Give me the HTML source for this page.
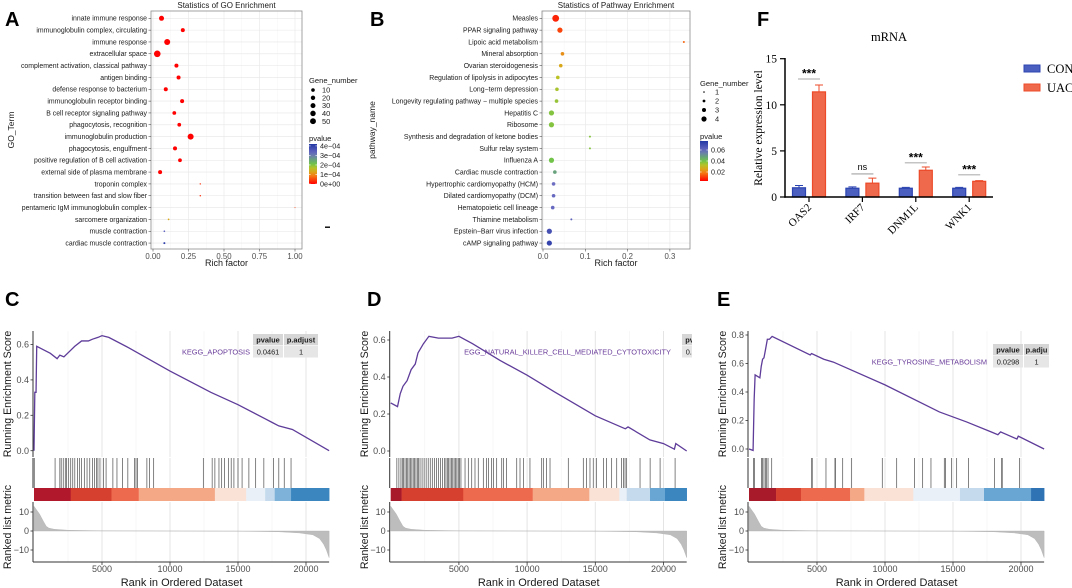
<!DOCTYPE html>
<html><head><meta charset="utf-8"><style>
html,body{margin:0;padding:0;background:#fff;}
svg{display:block;font-family:"Liberation Sans",sans-serif;}
.serif{font-family:"Liberation Serif",serif;}
</style></head><body>
<svg id="fig" width="1072" height="588" viewBox="0 0 1072 588" xmlns="http://www.w3.org/2000/svg">
<defs>
<clipPath id="clipD"><rect x="340" y="290" width="352" height="298"/></clipPath>
</defs>
</svg>
<script>
// ---------- Panel A data ----------
const GO_TERMS=['innate immune response','immunoglobulin complex, circulating','immune response','extracellular space','complement activation, classical pathway','antigen binding','defense response to bacterium','immunoglobulin receptor binding','B cell receptor signaling pathway','phagocytosis, recognition','immunoglobulin production','phagocytosis, engulfment','positive regulation of B cell activation','external side of plasma membrane','troponin complex','transition between fast and slow fiber','pentameric IgM immunoglobulin complex','sarcomere organization','muscle contraction','cardiac muscle contraction'];
const GO_RICH=[0.06,0.21,0.10,0.03,0.165,0.18,0.09,0.205,0.15,0.185,0.265,0.155,0.19,0.05,0.333,0.333,1.0,0.11,0.08,0.08];
const GO_GENES=[25,16,36,44,16,16,16,16,14,14,36,16,14,16,2,2,1,3,3,4];
const GO_P=[1e-6,1e-6,1e-6,1e-6,1e-6,1e-6,1e-6,1e-6,1e-6,1e-6,1e-6,1e-6,1e-6,1e-6,0.3e-4,0.3e-4,0.5e-4,1.3e-4,3.3e-4,4.0e-4];
const GO_XTICKS=[0,0.25,0.5,0.75,1.0];
const GO_XTICK_LABELS=['0.00','0.25','0.50','0.75','1.00'];
const GO_LEGEND_SIZES=[10,20,30,40,50];
const GO_P_TICKS=[4e-4,3e-4,2e-4,1e-4,0];
const GO_P_LABELS=['4e−04','3e−04','2e−04','1e−04','0e+00'];
// ---------- Panel B data ----------
const KEGG_TERMS=['Measles','PPAR signaling pathway','Lipoic acid metabolism','Mineral absorption','Ovarian steroidogenesis','Regulation of lipolysis in adipocytes','Long−term depression','Longevity regulating pathway − multiple species','Hepatitis C','Ribosome','Synthesis and degradation of ketone bodies','Sulfur relay system','Influenza A','Cardiac muscle contraction','Hypertrophic cardiomyopathy (HCM)','Dilated cardiomyopathy (DCM)','Hematopoietic cell lineage','Thiamine metabolism','Epstein−Barr virus infection','cAMP signaling pathway'];
const KEGG_RICH=[0.03,0.04,0.333,0.046,0.042,0.035,0.033,0.032,0.02,0.02,0.111,0.111,0.02,0.028,0.025,0.025,0.023,0.067,0.015,0.015];
const KEGG_GENES=[4,3,1,2,2,2,2,2,3,3,1,1,3,2,2,2,2,1,3,3];
const KEGG_P=[0.008,0.012,0.016,0.022,0.026,0.032,0.034,0.036,0.038,0.038,0.038,0.038,0.040,0.048,0.058,0.060,0.060,0.062,0.068,0.072];
const KEGG_XTICKS=[0,0.1,0.2,0.3];
const KEGG_XTICK_LABELS=['0.0','0.1','0.2','0.3'];
const KEGG_LEGEND_SIZES=[1,2,3,4];
const KEGG_P_TICKS=[0.06,0.04,0.02];
const KEGG_P_LABELS=['0.06','0.04','0.02'];
// ---------- Panel F data ----------
const F_GENES=['OAS2','IRF7','DNM1L','WNK1'];
const F_CON=[1.0,0.95,0.95,0.95];
const F_CON_ERR=[0.25,0.15,0.1,0.1];
const F_UAC=[11.4,1.5,2.9,1.7];
const F_UAC_ERR=[0.75,0.55,0.35,0.08];
const F_SIG_Y=[12.8,2.5,3.7,2.4];
const F_SIG_LABEL=['***','ns','***','***'];
const F_YTICKS=[0,5,10,15];
// ---------- GSEA data ----------
const METRIC_RANK=[0,150,400,700,900,1100,1500,2500,5000,10000,15000,18000,19500,20500,21000,21300,21500,21700];
const METRIC_VAL=[13,11.5,9,5,2.5,1.5,0.9,0.4,0.1,0,-0.1,-0.4,-1,-2,-4,-7,-10,-14];
const C_ES_RANK=[0,60,150,200,700,1200,1700,1900,2200,2600,3000,3500,4000,4300,4700,5000,5500,7000,10000,13000,15000,17000,17500,18000,19000,21700];
const C_ES_VAL=[0,0.33,0.33,0.59,0.57,0.55,0.52,0.54,0.53,0.56,0.59,0.62,0.62,0.63,0.64,0.65,0.64,0.58,0.45,0.33,0.26,0.18,0.16,0.14,0.12,0.0];
const C_HITS=[20,1550,1900,2000,2150,2300,2400,2550,2700,2850,3000,3200,3350,3500,3700,3900,4100,4300,4450,4600,4700,4850,5100,5300,5800,6100,6500,6900,7400,7500,7600,8300,8500,8800,12450,13100,13300,13600,13800,14000,14300,14500,14700,15000,15300,15800,16300,16900,17600,18000,18400,18900];
const C_SEG_END=[2700,5700,7700,13300,15600,17000,17700,18900,21700];
const D_ES_RANK=[0,500,700,900,1200,1500,1800,2000,2400,2800,3500,4500,5000,6000,8000,10000,12000,15000,17200,17400,19000,20000,20800,20900,21700];
const D_ES_VAL=[0.26,0.24,0.31,0.35,0.38,0.44,0.47,0.53,0.58,0.62,0.61,0.61,0.62,0.58,0.49,0.41,0.32,0.19,0.12,0.13,0.06,0.04,0.01,0.04,0.0];
const D_HITS=[450,600,750,850,950,1050,1150,1250,1350,1450,1550,1650,1750,1850,1950,2050,2150,2300,2450,2600,2750,2900,3050,3200,3350,3500,3650,3800,3950,4050,4150,4250,4350,4450,4550,4650,4750,4850,4950,5050,5150,5450,5690,5940,6180,6420,6790,7030,7160,7400,7530,7770,8140,8260,8500,9240,9480,9730,10210,11070,11190,11430,11680,13020,14120,14360,14610,14850,15100,15590,15830,16200,16570,16930,17060,17180,17300,18280,19020,19750,20850];
const D_SEG_END=[800,5320,10410,14560,16760,17300,19010,20110,21700];
const E_ES_RANK=[0,300,380,450,800,900,1000,1100,1200,1350,1500,1700,4500,4600,5500,6200,10000,14000,16000,17800,18300,18500,19700,19800,21700];
const E_ES_VAL=[0,-0.01,0.35,0.52,0.50,0.58,0.63,0.64,0.69,0.77,0.77,0.79,0.66,0.67,0.63,0.61,0.45,0.26,0.19,0.12,0.10,0.12,0.07,0.09,0.0];
const E_HITS=[320,400,930,1000,1100,1200,1300,1400,1670,4610,4650,5660,6320,6350,6890,7550,9800,10860,12160,12770,13380,14360,14450,14900,15270,16130,18040,18580,18620,19880];
const E_SEG_END=[1990,3820,7430,8480,12080,15510,17280,20740,21700];
const GSEA_XTICKS=[5000,10000,15000,20000];

// ---------- helpers ----------
const NS='http://www.w3.org/2000/svg';
const svg=document.getElementById('fig');
function mk(tag,attrs,parent,text){const e=document.createElementNS(NS,tag);for(const k in attrs)e.setAttribute(k,attrs[k]);if(text!==undefined)e.textContent=text;(parent||svg).appendChild(e);return e;}
const STOPS=[[0,[255,0,0]],[0.2,[245,120,20]],[0.37,[200,195,30]],[0.52,[100,195,80]],[0.75,[110,110,195]],[1,[35,55,165]]];
function pal(t){t=Math.max(0,Math.min(1,t));for(let i=1;i<STOPS.length;i++){if(t<=STOPS[i][0]){const a=STOPS[i-1],b=STOPS[i];const f=(t-a[0])/(b[0]-a[0]);const c=a[1].map((v,j)=>Math.round(v+(b[1][j]-v)*f));return 'rgb('+c.join(',')+')';}}return 'rgb(35,55,165)';}
const defs=svg.querySelector('defs');
const lg=mk('linearGradient',{id:'pgrad',x1:0,y1:1,x2:0,y2:0},defs);
for(let i=0;i<=10;i++){mk('stop',{offset:(i*10)+'%','stop-color':pal(i/10)},lg);}

function panelLabel(txt,x,y){const t=mk('text',{x:x,y:y,'font-size':20,'font-weight':'bold',fill:'#000'},svg,txt);

}

// ---------- dot plot ----------
function dotPlot(o){
  const g=mk('g',{});
  
  
  const sx=v=>o.x0+v*o.xs;
  const rowY=i=>18.3+i*11.83;
  mk('rect',{x:o.left,y:11,width:o.right-o.left,height:238,fill:'#fff'},g);
  for(let i=0;i<o.ticks.length;i++){
    mk('line',{x1:sx(o.ticks[i]),x2:sx(o.ticks[i]),y1:11,y2:249,stroke:'#e6e6e6','stroke-width':0.6},g);
    if(i<o.ticks.length-1){const m=(o.ticks[i]+o.ticks[i+1])/2;mk('line',{x1:sx(m),x2:sx(m),y1:11,y2:249,stroke:'#f3f3f3','stroke-width':0.4},g);}
  }
  o.terms.forEach((t,i)=>{mk('line',{x1:o.left,x2:o.right,y1:rowY(i),y2:rowY(i),stroke:'#e6e6e6','stroke-width':0.6},g);});
  const box=mk('rect',{x:o.left,y:11,width:o.right-o.left,height:238,fill:'none',stroke:'#8c8c8c','stroke-width':0.8},g);
  
  
  o.terms.forEach((t,i)=>{
    const lab=mk('text',{x:o.left-4,y:rowY(i)+2.4,'font-size':6.9,'text-anchor':'end',fill:'#1a1a1a'},g,t);
    
    
    mk('line',{x1:o.left-2.5,x2:o.left,y1:rowY(i),y2:rowY(i),stroke:'#333','stroke-width':0.5},g);
    const c=mk('circle',{cx:sx(o.rich[i]),cy:rowY(i),r:o.rfn(o.genes[i]),fill:pal(o.pt(o.p[i]))},g);
    
    
  });
  o.ticks.forEach((v,i)=>{
    mk('line',{x1:sx(v),x2:sx(v),y1:249,y2:251.5,stroke:'#333','stroke-width':0.5},g);
    const tl=mk('text',{x:sx(v),y:259,'font-size':7.8,'text-anchor':'middle',fill:'#4d4d4d'},g,o.tickLabels[i]);
    
    
  });
  const ttl=mk('text',{x:(o.left+o.right)/2,y:8,'font-size':8,'text-anchor':'middle',fill:'#1a1a1a'},g,o.title);
  
  
  const xt=mk('text',{x:(o.left+o.right)/2,y:266,'font-size':9,'text-anchor':'middle',fill:'#1a1a1a'},g,'Rich factor');
  
  
  const yt=mk('text',{x:0,y:0,'font-size':8.5,'text-anchor':'middle',fill:'#1a1a1a',transform:'translate('+o.ytX+',130) rotate(-90)'},g,o.ytitle);
  
  
  const lgT=mk('text',{x:o.legX,y:o.legTitleY,'font-size':7.6,fill:'#1a1a1a'},g,'Gene_number');
  
  
  o.legSizes.forEach((s,i)=>{
    const y=o.legY0+i*o.legDy;
    const d=mk('circle',{cx:o.legX+4,cy:y,r:o.legR(s),fill:'#000'},g);
    
    
    mk('text',{x:o.legLabX,y:y+2.6,'font-size':7.4,fill:'#1a1a1a'},g,String(s));
  });
  const pT=mk('text',{x:o.legX,y:o.pTitleY,'font-size':7.6,fill:'#1a1a1a'},g,'pvalue');
  
  
  const cb=mk('rect',{x:o.legX,y:o.cbTop,width:8,height:o.cbBot-o.cbTop,fill:'url(#pgrad)'},g);
  
  
  o.pTicks.forEach((v,i)=>{
    const y=o.cbBot-o.pt(v)*(o.cbBot-o.cbTop);
    mk('text',{x:o.legX+11,y:y+2.5,'font-size':7.2,fill:'#1a1a1a'},g,o.pLabels[i]);
    mk('line',{x1:o.legX,x2:o.legX+1.6,y1:y,y2:y,stroke:'#fff','stroke-width':0.6},g);
    mk('line',{x1:o.legX+6.4,x2:o.legX+8,y1:y,y2:y,stroke:'#fff','stroke-width':0.6},g);
  });
}
dotPlot({name:'go-enrichment-chart',terms:GO_TERMS,rich:GO_RICH,genes:GO_GENES,p:GO_P,left:151,right:302,x0:153,xs:142,
  ticks:GO_XTICKS,tickLabels:GO_XTICK_LABELS,rfn:g=>0.5*Math.sqrt(g),pt:p=>p/4.2e-4,title:'Statistics of GO Enrichment',ytitle:'GO_Term',ytX:14,
  legX:309,legTitleY:83,legY0:90,legDy:7.8,legLabX:322,legSizes:GO_LEGEND_SIZES,legR:s=>0.9+0.18*Math.sqrt(s)*1.6,
  pTitleY:141,cbTop:144,cbBot:184,pTicks:GO_P_TICKS,pLabels:GO_P_LABELS});
mk('rect',{x:325,y:226.5,width:5,height:1.4,fill:'#000'});
dotPlot({name:'kegg-enrichment-chart',terms:KEGG_TERMS,rich:KEGG_RICH,genes:KEGG_GENES,p:KEGG_P,left:542,right:690,x0:543,xs:423,
  ticks:KEGG_XTICKS,tickLabels:KEGG_XTICK_LABELS,rfn:g=>1+0.8*(g-1),pt:p=>(p-0.0036)/0.0728,title:'Statistics of Pathway Enrichment',ytitle:'pathway_name',ytX:375,
  legX:700,legTitleY:86,legY0:92,legDy:9,legLabX:715,legSizes:KEGG_LEGEND_SIZES,legR:s=>0.8+0.6*(s-1),
  pTitleY:139,cbTop:141,cbBot:181,pTicks:KEGG_P_TICKS,pLabels:KEGG_P_LABELS});
panelLabel('A',5,26);
panelLabel('B',370,26);

// ---------- GSEA ----------
const SEG_COLORS_C=['#b2182b','#d6402f','#ee6a4f','#f4a886','#fbe2d6','#eaf0f8','#c5dbed','#7fb2d8','#3c86bf'];
const SEG_COLORS_D=['#a8192a','#d6402f','#ee6a4f','#f4a886','#fbe2d6','#eaf0f8','#c5dbed','#6aa6d4','#3c86bf'];
const SEG_COLORS_E=['#a8192a','#d6402f','#ee6a4f','#f4a886','#fbe2d6','#eaf0f8','#c5dbed','#6aa6d4','#2f73b5'];
function gsea(o){
  const g=mk('g',o.clip?{'clip-path':'url(#'+o.clip+')'}:{});
  
  
  const sx=r=>o.L+r/5000*o.px5k;
  const R=sx(21700);
  const sy=v=>o.es0-v*o.es01*100;
  const my=v=>531-v*1.9;
  for(let r=2500;r<21700;r+=2500){
    const maj=r%5000===0;
    mk('line',{x1:sx(r),x2:sx(r),y1:331,y2:457,stroke:maj?'#e4e4e4':'#f2f2f2','stroke-width':maj?1:0.6},g);
    mk('line',{x1:sx(r),x2:sx(r),y1:458,y2:488,stroke:maj?'#e4e4e4':'#f2f2f2','stroke-width':maj?1:0.6},g);
    mk('line',{x1:sx(r),x2:sx(r),y1:502,y2:562,stroke:maj?'#e4e4e4':'#f2f2f2','stroke-width':maj?1:0.6},g);
  }
  let pts=[sx(0)+','+my(0)];
  METRIC_RANK.forEach((r,i)=>pts.push(sx(r)+','+my(METRIC_VAL[i])));
  pts.push(sx(21700)+','+my(0));
  const ar=mk('polygon',{points:pts.join(' '),fill:'#bdbdbd',stroke:'#b0b0b0','stroke-width':0.4},g);
  
  
  let prev=0;
  o.segEnd.forEach((e,i)=>{
    const s=mk('rect',{x:sx(prev),y:488,width:sx(e)-sx(prev)+0.3,height:13,fill:o.segColors[i]},g);
    
    
    prev=e;
  });
  o.hits.forEach(h=>{
    const l=mk('line',{x1:sx(h),x2:sx(h),y1:458,y2:488,stroke:'#222','stroke-width':0.7,'stroke-opacity':0.8},g);
    
    
  });
  const cp=o.esRank.map((r,i)=>sx(r)+','+sy(o.esVal[i])).join(' ');
  const cur=mk('polyline',{points:cp,fill:'none',stroke:'#5e3c99','stroke-width':1.3},g);
  
  
  [[331,457],[458,488],[502,562]].forEach(a=>mk('line',{x1:o.L-1,x2:o.L-1,y1:a[0],y2:a[1],stroke:'#333','stroke-width':1},g));
  mk('line',{x1:o.L-1,x2:R,y1:562,y2:562,stroke:'#333','stroke-width':1},g);
  o.esTicks.forEach(v=>{
    mk('line',{x1:o.L-3.5,x2:o.L-1,y1:sy(v),y2:sy(v),stroke:'#333','stroke-width':0.8},g);
    const t=mk('text',{x:o.L-5,y:sy(v)+3.2,'font-size':9,'text-anchor':'end',fill:'#4d4d4d'},g,v.toFixed(1));
    
    
  });
  [10,0,-10].forEach(v=>{
    mk('line',{x1:o.L-3.5,x2:o.L-1,y1:my(v),y2:my(v),stroke:'#333','stroke-width':0.8},g);
    mk('text',{x:o.L-5,y:my(v)+3.2,'font-size':9,'text-anchor':'end',fill:'#4d4d4d'},g,String(v).replace('-','−'));
  });
  GSEA_XTICKS.forEach(v=>{
    mk('line',{x1:sx(v),x2:sx(v),y1:562,y2:565,stroke:'#333','stroke-width':0.8},g);
    const t=mk('text',{x:sx(v),y:572,'font-size':9,'text-anchor':'middle',fill:'#4d4d4d'},g,String(v));
    
    
  });
  const xt=mk('text',{x:(o.L+R)/2,y:586,'font-size':11,'text-anchor':'middle',fill:'#1a1a1a'},g,'Rank in Ordered Dataset');
  
  
  const y1=mk('text',{x:0,y:0,'font-size':10.6,'text-anchor':'middle',fill:'#1a1a1a',transform:'translate('+o.ytX+',394) rotate(-90)'},g,'Running Enrichment Score');
  
  
  const y2=mk('text',{x:0,y:0,'font-size':10.6,'text-anchor':'middle',fill:'#1a1a1a',transform:'translate('+o.ytX+',527) rotate(-90)'},g,'Ranked list metric');
  
  
  const tb=mk('g',{},g);
  
  
  mk('rect',{x:o.tx,y:o.ty,width:30,height:11,fill:'#d6d6d6'},tb);
  mk('rect',{x:o.tx+31,y:o.ty,width:o.tw2,height:11,fill:'#d6d6d6'},tb);
  mk('rect',{x:o.tx,y:o.ty+11.5,width:30,height:12,fill:'#e6e6e6'},tb);
  mk('rect',{x:o.tx+31,y:o.ty+11.5,width:o.tw2,height:12,fill:'#e6e6e6'},tb);
  mk('text',{x:o.tx+15,y:o.ty+8.3,'font-size':7.4,'font-weight':'bold','text-anchor':'middle',fill:'#1a1a1a'},tb,'pvalue');
  mk('text',{x:o.tx+31+o.tw2/2,y:o.ty+8.3,'font-size':7.4,'font-weight':'bold','text-anchor':'middle',fill:'#1a1a1a'},tb,o.h2);
  mk('text',{x:o.tx+15,y:o.ty+20.3,'font-size':7.4,'text-anchor':'middle',fill:'#1a1a1a'},tb,o.pv);
  mk('text',{x:o.tx+31+o.tw2/2,y:o.ty+20.3,'font-size':7.4,'text-anchor':'middle',fill:'#1a1a1a'},tb,'1');
  const gl=mk('text',{x:o.labX,y:o.ty+20.3,'font-size':7.4,'text-anchor':'end',fill:'#6a3d9a'},g,o.label);
  
  
}
gsea({name:'gsea-apoptosis-chart',L:34,px5k:68,es0:450.7,es01:1.77,esRank:C_ES_RANK,esVal:C_ES_VAL,hits:C_HITS,segEnd:C_SEG_END,segColors:SEG_COLORS_C,
  esTicks:[0,0.2,0.4,0.6],ytX:11,tx:253,ty:334,tw2:34,h2:'p.adjust',pv:'0.0461',label:'KEGG_APOPTOSIS',labX:250});
gsea({name:'gsea-nk-cytotoxicity-chart',clip:'clipD',L:390.7,px5k:68.2,es0:451,es01:1.85,esRank:D_ES_RANK,esVal:D_ES_VAL,hits:D_HITS,segEnd:D_SEG_END,segColors:SEG_COLORS_D,
  esTicks:[0,0.2,0.4,0.6],ytX:368,tx:682,ty:334,tw2:34,h2:'p.adjust',pv:'0.0461',label:'EGG_NATURAL_KILLER_CELL_MEDIATED_CYTOTOXICITY',labX:671});
gsea({name:'gsea-tyrosine-chart',L:749,px5k:68,es0:449,es01:1.425,esRank:E_ES_RANK,esVal:E_ES_VAL,hits:E_HITS,segEnd:E_SEG_END,segColors:SEG_COLORS_E,
  esTicks:[0,0.2,0.4,0.6,0.8],ytX:726,tx:993,ty:344,tw2:25,h2:'p.adju',pv:'0.0298',label:'KEGG_TYROSINE_METABOLISM',labX:987});
panelLabel('C',5,306);
panelLabel('D',367,306);
panelLabel('E',717,306);

// ---------- Panel F ----------
(function(){
  const g=mk('g',{class:'serif'});
  
  
  const y=v=>197-v*9.22;
  const cx=i=>809+i*53.4;
  const ttl=mk('text',{x:889,y:41,'font-size':12.5,'text-anchor':'middle',fill:'#000'},g,'mRNA');
  
  
  F_GENES.forEach((name,i)=>{
    const bars=[[cx(i)-10,F_CON[i],F_CON_ERR[i],'#4a5fc0','#2c44b0','con'],[cx(i)+10,F_UAC[i],F_UAC_ERR[i],'#ef6a4c','#ec4a28','uac']];
    bars.forEach(b=>{
      const rc=mk('rect',{x:b[0]-6.5,y:y(b[1]),width:13,height:y(0)-y(b[1]),fill:b[3],stroke:b[4],'stroke-width':1.2},g);
      
      
      const top=y(b[1]+b[2]);
      const eb=mk('path',{d:'M'+b[0]+','+y(b[1])+'V'+top+'M'+(b[0]-4)+','+top+'H'+(b[0]+4),stroke:b[4],'stroke-width':1,fill:'none'},g);
      
      
    });
    const sl=mk('line',{x1:cx(i)-11,x2:cx(i)+11,y1:y(F_SIG_Y[i]),y2:y(F_SIG_Y[i]),stroke:'#8a8a8a','stroke-width':0.8},g);
    
    
    const st=mk('text',{x:cx(i),y:y(F_SIG_Y[i])-(F_SIG_LABEL[i]==='ns'?4:1.5),'font-size':F_SIG_LABEL[i]==='ns'?9:12,'font-weight':F_SIG_LABEL[i]==='ns'?'normal':'bold','text-anchor':'middle',fill:'#000',style:'font-family:"Liberation Sans",sans-serif'},g,F_SIG_LABEL[i]);
    
    
    mk('line',{x1:cx(i),x2:cx(i),y1:197,y2:202,stroke:'#000','stroke-width':1.2},g);
    const xl=mk('text',{x:0,y:0,'font-size':11,'text-anchor':'end',fill:'#000',transform:'translate('+(cx(i)+3)+',208) rotate(-45)'},g,name);
    
    
  });
  mk('line',{x1:785,x2:785,y1:58,y2:197.7,stroke:'#000','stroke-width':1.5},g);
  mk('line',{x1:784.3,x2:993,y1:197,y2:197,stroke:'#000','stroke-width':1.5},g);
  F_YTICKS.forEach(v=>{
    mk('line',{x1:780,x2:785,y1:y(v),y2:y(v),stroke:'#000','stroke-width':1.2},g);
    const t=mk('text',{x:777,y:y(v)+4,'font-size':11.5,'text-anchor':'end',fill:'#000'},g,String(v));
    
    
  });
  const yt=mk('text',{x:0,y:0,'font-size':11.5,'text-anchor':'middle',fill:'#000',transform:'translate(762,128) rotate(-90)'},g,'Relative expression level');
  
  
  const l1=mk('rect',{x:1024,y:65,width:16,height:7,fill:'#4a5fc0',stroke:'#2c44b0','stroke-width':1},g);
  
  
  const t1=mk('text',{x:1047,y:73,'font-size':12.5,fill:'#000'},g,'CON');
  
  
  const l2=mk('rect',{x:1024,y:84,width:16,height:7,fill:'#ef6a4c',stroke:'#ec4a28','stroke-width':1},g);
  
  
  const t2=mk('text',{x:1047,y:92,'font-size':12.5,fill:'#000'},g,'UAC');
  
  
})();
panelLabel('F',757,26);
</script>
</body></html>
